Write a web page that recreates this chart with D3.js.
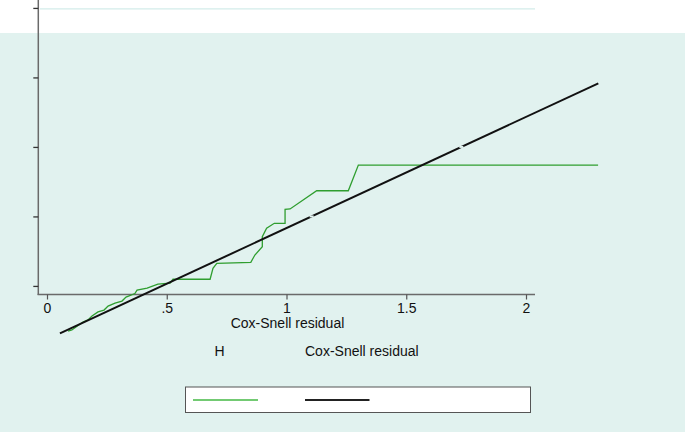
<!DOCTYPE html>
<html><head><meta charset="utf-8">
<script src="https://cdn.jsdelivr.net/npm/d3@7"></script>
<style>html,body{margin:0;padding:0;background:#fff;}svg{display:block;}</style>
</head><body>
<script>
// Data
const xTicks = [0, 0.5, 1, 1.5, 2];
const xTickLabels = ["0", ".5", "1", "1.5", "2"];
const yTicks = [0.48, 1.105, 1.73, 2.355, 2.98];
// Nelson-Aalen cumulative hazard of Cox-Snell residuals
const csResid = [0.088, 0.104, 0.121, 0.150, 0.171, 0.188, 0.213, 0.238, 0.255, 0.284, 0.313, 0.330, 0.367, 0.376, 0.418, 0.463, 0.514, 0.526, 0.681, 0.693, 0.709, 0.851, 0.868, 0.899, 0.899, 0.917, 0.949, 0.994, 0.994, 1.015, 1.126, 1.258, 1.300, 2.301];
const cumHaz  = [0.074, 0.084, 0.111, 0.156, 0.174, 0.210, 0.246, 0.263, 0.299, 0.326, 0.344, 0.380, 0.412, 0.443, 0.461, 0.497, 0.506, 0.540, 0.540, 0.638, 0.683, 0.692, 0.758, 0.833, 0.923, 0.998, 1.043, 1.043, 1.169, 1.172, 1.336, 1.336, 1.567, 1.567];
// 45-degree reference line
const refLine = [0.054, 2.302];
const axisTitle = "Cox-Snell residual";
const subLabels = ["H", "Cox-Snell residual"];

const W = 685, H = 432;
const svg = d3.select("body").append("svg").attr("width", W).attr("height", H);

const x = d3.scaleLinear().domain([0, 2]).range([47, 526]);
const y = d3.scaleLinear().domain([0, 3]).range([339.3, 5.7]);
const bg = "#e1f2ef";

svg.append("rect").attr("x", 0).attr("y", 0).attr("width", W).attr("height", H).attr("fill", "#fff");
svg.append("rect").attr("x", 0).attr("y", 33).attr("width", W).attr("height", H - 33).attr("fill", bg);

// faint top gridline
svg.append("line").attr("x1", 40).attr("x2", 535)
  .attr("y1", y(yTicks[4]) + 1).attr("y2", y(yTicks[4]) + 1)
  .attr("stroke", "#d3ecea").attr("stroke-width", 1.2);

// axes
svg.append("line").attr("x1", 38.3).attr("x2", 38.3).attr("y1", 0).attr("y2", 295)
  .attr("stroke", "#6a6a6a").attr("stroke-width", 1.5);
svg.append("line").attr("x1", 37.6).attr("x2", 535).attr("y1", 294.5).attr("y2", 294.5)
  .attr("stroke", "#6a6a6a").attr("stroke-width", 1.5);

const font = "Liberation Sans, Arial, sans-serif";

const xAxis = d3.axisBottom(x).tickValues(xTicks).tickFormat((d, i) => xTickLabels[i]).tickSize(5).tickPadding(4);
const gx = svg.append("g").attr("transform", "translate(0,294.5)").call(xAxis);
gx.select(".domain").remove();
gx.selectAll(".tick line").attr("stroke", "#555").attr("stroke-width", 1.2);
gx.selectAll(".tick text").attr("font-family", font).attr("font-size", 14).attr("fill", "#111");

const yAxis = d3.axisLeft(y).tickValues(yTicks).tickFormat("").tickSize(5);
const gy = svg.append("g").attr("transform", "translate(38.3,0)").call(yAxis);
gy.select(".domain").remove();
gy.selectAll(".tick line").attr("stroke", "#333").attr("stroke-width", 1.3);

// green step curve
const pts = csResid.map((v, i) => [v, cumHaz[i]]);
svg.append("path").datum(pts)
  .attr("d", d3.line().x(d => x(d[0])).y(d => y(d[1])))
  .attr("fill", "none").attr("stroke", "#2f9e2f").attr("stroke-width", 1.3);

// reference line
svg.append("path").datum(refLine.map(v => [v, v]))
  .attr("d", d3.line().x(d => x(d[0])).y(d => y(d[1])))
  .attr("fill", "none").attr("stroke", "#111").attr("stroke-width", 2);

// small breaks where gridlines cross the reference line
[yTicks[1], yTicks[2]].forEach(v => {
  svg.append("rect").attr("x", x(v) - 2).attr("y", y(v) - 1).attr("width", 4).attr("height", 2).attr("fill", bg);
});

svg.append("text").attr("x", 287.5).attr("y", 328).attr("text-anchor", "middle")
  .attr("font-family", font).attr("font-size", 14).attr("fill", "#111").text(axisTitle);
svg.append("text").attr("x", 219.5).attr("y", 356).attr("text-anchor", "middle")
  .attr("font-family", font).attr("font-size", 14).attr("fill", "#111").text(subLabels[0]);
svg.append("text").attr("x", 305).attr("y", 356)
  .attr("font-family", font).attr("font-size", 14).attr("fill", "#111").text(subLabels[1]);

// legend
svg.append("rect").attr("x", 185.5).attr("y", 387).attr("width", 345).attr("height", 25.5)
  .attr("fill", "#fff").attr("stroke", "#555").attr("stroke-width", 1);
svg.append("line").attr("x1", 193).attr("x2", 258).attr("y1", 400).attr("y2", 400)
  .attr("stroke", "#45b845").attr("stroke-width", 1.4);
svg.append("line").attr("x1", 305).attr("x2", 369.5).attr("y1", 400).attr("y2", 400)
  .attr("stroke", "#222").attr("stroke-width", 2);
</script>
</body></html>
